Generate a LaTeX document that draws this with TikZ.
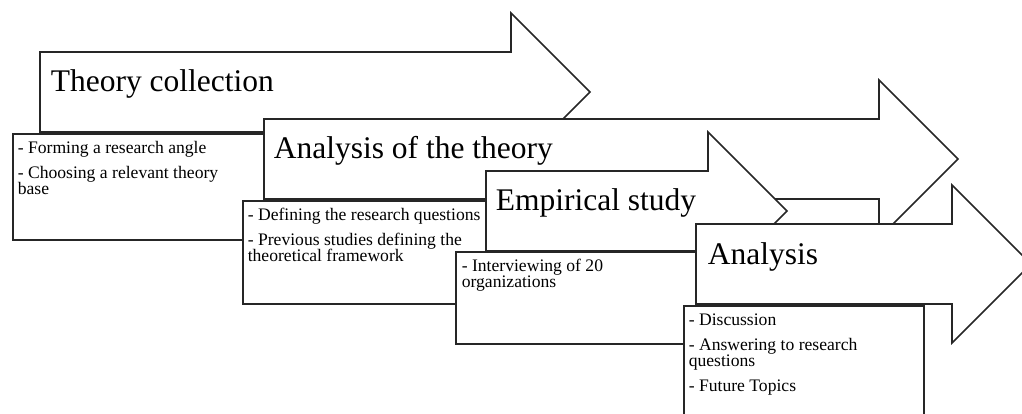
\documentclass[tikz,border=0pt]{standalone}
\usepackage{fontspec}
\setmainfont{Liberation Serif}
\usetikzlibrary{positioning}

\begin{document}
\begin{tikzpicture}[x=1pt, y=-1pt, line width=1.6pt]
\tikzstyle{stage} = [draw=black!85, fill=white, line join=miter]
\tikzstyle{title} = [anchor=base west, inner sep=0pt, font=\fontsize{31.5}{34}\selectfont]
\tikzstyle{notebox} = [draw=black!85, fill=white, anchor=north west, inner sep=0pt]
\tikzstyle{notes} = [anchor=north west, inner sep=0pt, align=left, font=\fontsize{17.6}{16.5}\selectfont,
	execute at begin node=\rule{0pt}{13pt}]
\useasboundingbox (0,0) rectangle (1022,414);
\clip (0,0) rectangle (1022,414);
% theory collection
\draw[stage] (40,52) -- (511,52) -- (511,13) -- (590,92) -- (511,171) -- (511,132) -- (40,132) -- cycle;
\node[title] (tcoll) at (50,92) {Theory collection};
\node[notebox, minimum width=251pt, minimum height=106pt] (tcollbox) at (12,133) {};
\node[notes, xshift=5pt, yshift=-7pt] (tcolltxt) at (tcollbox.north west)
	{- Forming a research angle\\[8.5pt] - Choosing a relevant theory\\ base};
% analysis of the theory
\draw[stage] (264,119) -- (879,119) -- (879,80) -- (958,159) -- (879,238) -- (879,199) -- (264,199) -- cycle;
\node[title] (atheo) at (273,159) {Analysis of the theory};
\node[notebox, minimum width=246pt, minimum height=103pt] (atheobox) at (242,200) {};
\node[notes, xshift=5pt, yshift=-7pt] (atheotxt) at (atheobox.north west)
	{- Defining the research questions\\[8.5pt] - Previous studies defining the\\ theoretical framework};
% empirical study
\draw[stage] (486,171) -- (708,171) -- (708,132) -- (787,211) -- (708,290) -- (708,251) -- (486,251) -- cycle;
\node[title] (emp) at (495,211) {Empirical study};
\node[notebox, minimum width=243pt, minimum height=92pt] (empbox) at (455,251) {};
\node[notes, xshift=6pt, yshift=-7pt] (emptxt) at (empbox.north west)
	{- Interviewing of 20\\ organizations};
% analysis
\draw[stage] (696,224) -- (952,224) -- (952,185) -- (1031,264) -- (952,343) -- (952,304) -- (696,304) -- cycle;
\node[title] (anl) at (707,264) {Analysis};
\node[notebox, minimum width=240pt, minimum height=120pt] (anlbox) at (683,305) {};
\node[notes, xshift=5pt, yshift=-8pt] (anltxt) at (anlbox.north west)
	{- Discussion\\[8.5pt] - Answering to research\\ questions\\[8.5pt] - Future Topics};
\end{tikzpicture}
\end{document}
